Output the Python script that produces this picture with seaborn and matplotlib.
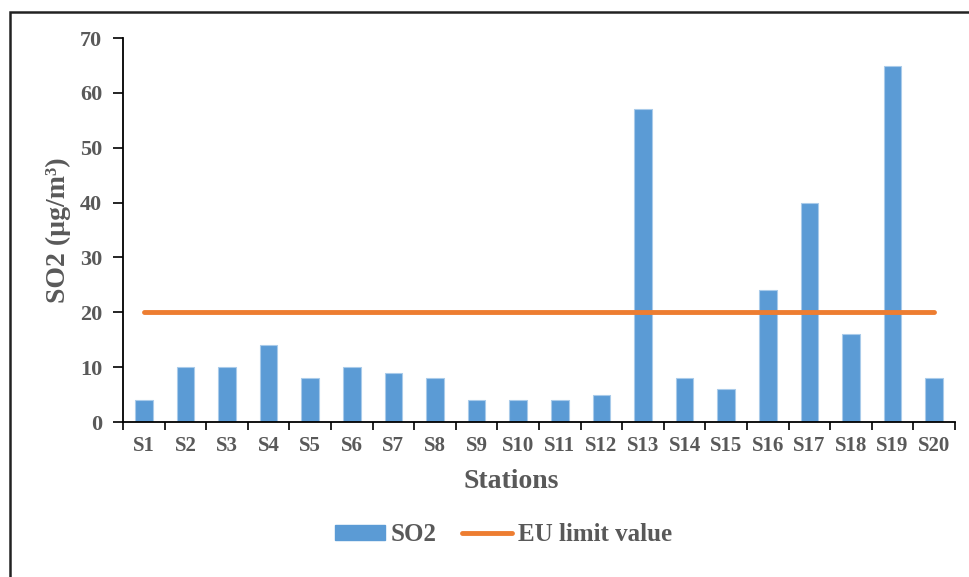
import matplotlib
matplotlib.use("Agg")
import matplotlib.pyplot as plt
import matplotlib.patches as mpatches
from matplotlib.lines import Line2D
import numpy as np
import pandas as pd
import seaborn as sns

stations = [f"S{i}" for i in range(1, 21)]
so2_values = [4, 10, 10, 14, 8, 10, 9, 8, 4, 4, 4, 5, 57, 8, 6, 24, 40, 16, 65, 8]
eu_limit = 20
y_ticks = [0, 10, 20, 30, 40, 50, 60, 70]

sns.set_theme(style="white")
plt.rcParams["font.family"] = ["Liberation Serif", "DejaVu Serif"]
plt.rcParams["font.weight"] = "bold"

text_color = "#595959"
bar_color = "#5B9BD5"
line_color = "#ED7D31"

df = pd.DataFrame({"Station": stations, "SO2": so2_values})

fig = plt.figure(figsize=(9.7, 5.77), dpi=100)
ax = fig.add_axes([0.1268, 0.2686, 0.8577, 0.6654])

sns.barplot(data=df, x="Station", y="SO2", color=bar_color, width=0.42,
            saturation=1, edgecolor="#A9CBEA", linewidth=0.8, ax=ax)

x = np.arange(len(stations))
ax.plot(x, [eu_limit] * len(stations), color=line_color, lw=3.5,
        solid_capstyle="round", zorder=3)

ax.set_xlim(-0.5, len(stations) - 0.5)
ax.set_ylim(0, 70)
ax.set_yticks(y_ticks)
ax.set_yticklabels([str(t) for t in y_ticks])

for side in ["top", "right"]:
    ax.spines[side].set_visible(False)
for side in ["left", "bottom"]:
    ax.spines[side].set_color("black")
    ax.spines[side].set_linewidth(1.3)

ax.tick_params(axis="y", direction="out", length=7, width=1.2, color="black",
               labelsize=16, labelcolor=text_color, left=True, pad=8)
ax.tick_params(axis="x", which="major", length=0, labelsize=15,
               labelcolor=text_color, pad=10)
ax.set_xticks(np.arange(-0.5, len(stations)), minor=True)
ax.tick_params(axis="x", which="minor", direction="out", length=6, width=1.2,
               color="black", bottom=True)

for lbl in ax.get_xticklabels() + ax.get_yticklabels():
    lbl.set_fontweight("bold")

ax.set_xlabel("Stations", fontsize=20, fontweight="bold", color=text_color)
ax.xaxis.set_label_coords(0.466, -0.156)
ax.xaxis.label.set_va("center")
ax.set_ylabel("SO2 (µg/m³)", fontsize=20, fontweight="bold", color=text_color)
ax.yaxis.set_label_coords(-0.078, 0.5)
ax.yaxis.label.set_va("center")

handles = [
    mpatches.Patch(color=bar_color, label="SO2"),
    Line2D([0], [0], color=line_color, lw=3.5, solid_capstyle="round",
           label="EU limit value"),
]
fig.legend(handles=handles, loc="center", bbox_to_anchor=(0.519, 0.073),
           ncol=2, frameon=False, prop={"weight": "bold", "size": 18},
           labelcolor=text_color, handlelength=2.0, handleheight=0.55,
           handletextpad=0.25, columnspacing=1.0)

# outer chart frame
frame = mpatches.Rectangle((10 / 970, -0.05), 1.1, 1.05 - 12 / 577,
                           transform=fig.transFigure, fill=False,
                           edgecolor="#222222", linewidth=1.8, clip_on=False)
fig.patches.append(frame)

fig.savefig("out.png", dpi=100)
